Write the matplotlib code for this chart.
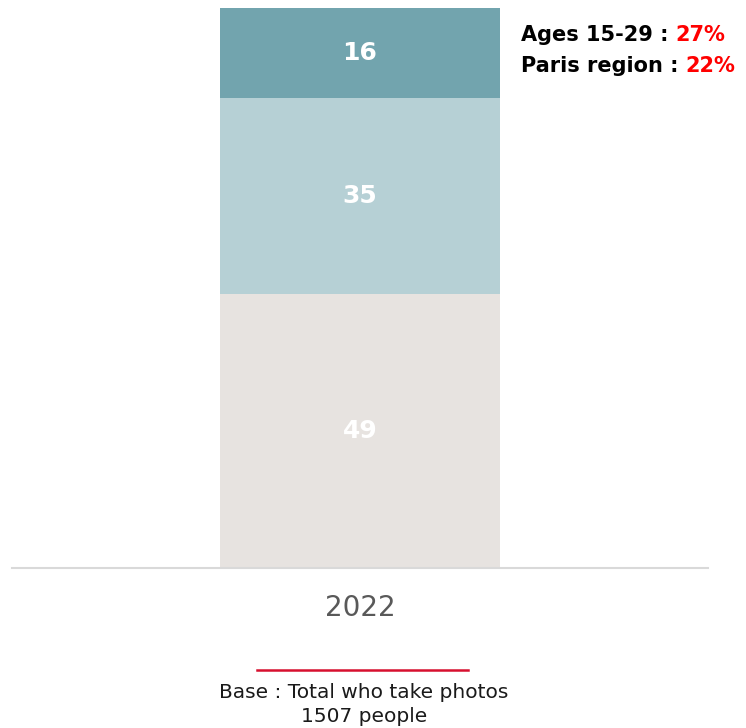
import matplotlib.pyplot as plt

# Données de la barre empilée (en %)
annee = '2022'
segments = [49, 35, 16]
couleurs = ['#E7E3E0', '#B6D0D5', '#72A4AE']
lignes_info = [('Ages 15-29 : ', '27%'), ('Paris region : ', '22%')]
base_lignes = ['Base : Total who take photos', '1507 people']

fig = plt.figure(figsize=(7.46, 7.28), dpi=100)
ax = fig.add_axes([12 / 746, 160 / 728, 696 / 746, 560 / 728])

bas = 0
for valeur, couleur in zip(segments, couleurs):
    ax.bar(0, valeur, bottom=bas, width=0.401, color=couleur)
    ax.text(0, bas + valeur / 2, str(valeur), ha='center', va='center',
            color='white', fontsize=18, fontweight='bold')
    bas += valeur

ax.set_xlim(-0.5, 0.5)
ax.set_ylim(0, 100)
ax.set_xticks([])
ax.set_yticks([])
for cote in ['top', 'left', 'right']:
    ax.spines[cote].set_visible(False)
ax.spines['bottom'].set_color('#D9D9D9')
ax.spines['bottom'].set_linewidth(1.5)

# Libellé de l'année sous la barre
fig.text(360 / 746, 1 - 608 / 728, annee, ha='center', va='center',
         fontsize=20, color='#595959')

# Encadré texte à droite
y_txt = [35, 66]
for (libelle, pct), y in zip(lignes_info, y_txt):
    t = fig.text(521 / 746, 1 - y / 728, libelle, ha='left', va='center',
                 fontsize=15, fontweight='bold', color='black')
    ax.annotate(pct, xy=(1, 0.5), xycoords=t, ha='left', va='center',
                fontsize=15, fontweight='bold', color='#FF0000')

# Trait rouge et base
fig.add_artist(plt.Line2D([257 / 746, 468 / 746], [1 - 670 / 728, 1 - 670 / 728],
                          color='#D7102F', linewidth=1.8))
for ligne, y in zip(base_lignes, [692, 716]):
    fig.text(364 / 746, 1 - y / 728, ligne, ha='center', va='center',
             fontsize=14.5, color='#1A1A1A')

fig.savefig('out.png', dpi=100)
